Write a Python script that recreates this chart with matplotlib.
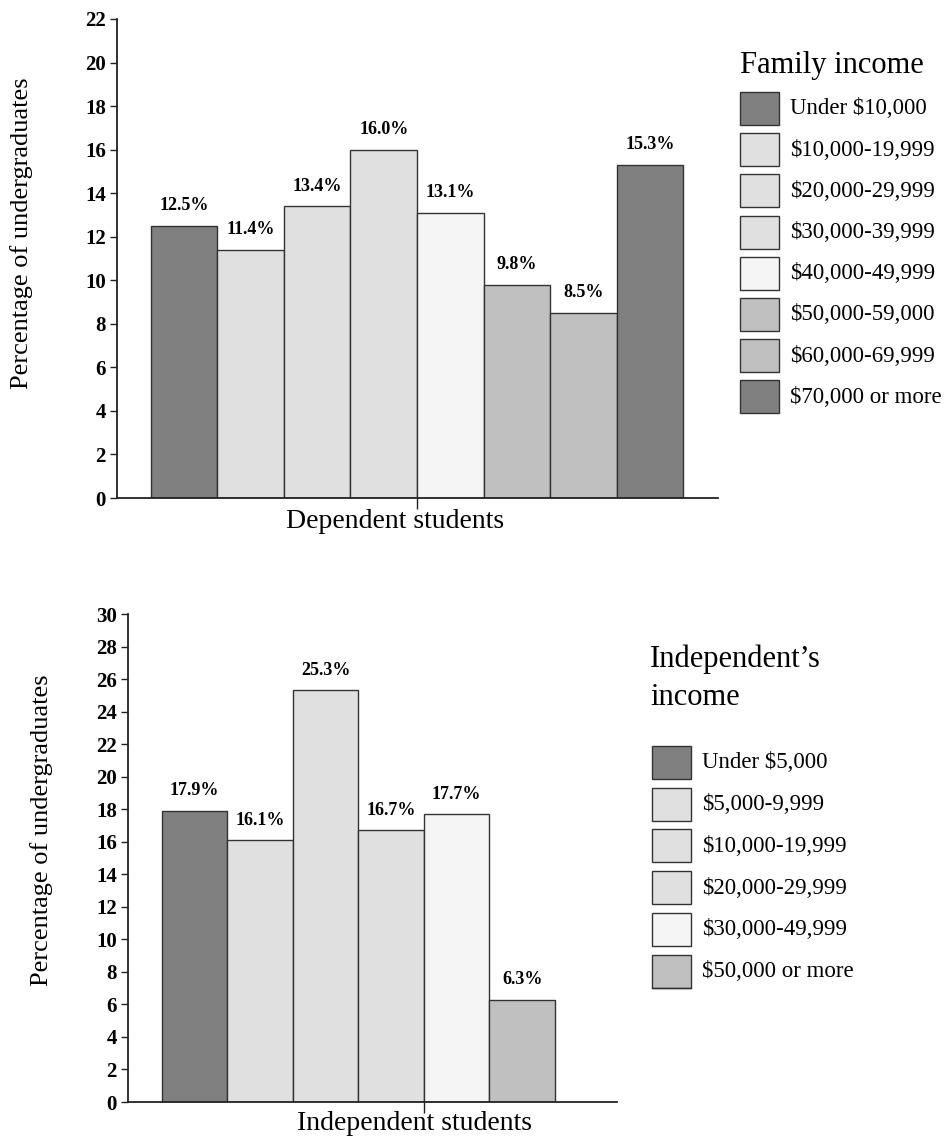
import matplotlib
matplotlib.use("Agg")
import matplotlib.pyplot as plt
from matplotlib.patches import Rectangle
from matplotlib.lines import Line2D
import numpy as np

plt.rcParams['font.family'] = ['Liberation Serif', 'DejaVu Serif']

# data
dep_labels = ["Under $10,000", "$10,000-19,999", "$20,000-29,999", "$30,000-39,999",
              "$40,000-49,999", "$50,000-59,000", "$60,000-69,999", "$70,000 or more"]
dep_values = [12.5, 11.4, 13.4, 16.0, 13.1, 9.8, 8.5, 15.3]

ind_labels = ["Under $5,000", "$5,000-9,999", "$10,000-19,999", "$20,000-29,999",
              "$30,000-49,999", "$50,000 or more"]
ind_values = [17.9, 16.1, 25.3, 16.7, 17.7, 6.3]

DARK = "#808080"
LIGHT = "#e0e0e0"
WHITE = "#f5f5f5"
MID = "#c0c0c0"
dep_colors = [DARK, LIGHT, LIGHT, LIGHT, WHITE, MID, MID, DARK]
ind_colors = [DARK, LIGHT, LIGHT, LIGHT, WHITE, MID]

W, H = 949, 1141
fig = plt.figure(figsize=(W / 100, H / 100), dpi=100)


def px(x, y):
    return x / W, 1 - y / H


def axes_px(left, top, right, bottom):
    return [left / W, 1 - bottom / H, (right - left) / W, (bottom - top) / H]


def draw_bars(ax, values, colors, xlim, ymax, xlabel, label_xy):
    x = np.arange(len(values))
    ax.bar(x, values, width=1.0, color=colors, edgecolor="#333333", linewidth=1.0)
    for xi, v in zip(x, values):
        ax.annotate(f"{v:.1f}%", (xi, v), xytext=(0, 20), textcoords="offset pixels",
                    ha="center", va="center", fontsize=13, fontweight="bold")
    ax.set_xlim(*xlim)
    ax.set_ylim(0, ymax)
    ax.set_yticks(np.arange(0, ymax + 1, 2))
    ax.set_xticks([3.5])
    ax.set_xticklabels([""])
    ax.set_xlabel(xlabel, fontsize=20, va="top")
    ax.xaxis.set_label_coords(*label_xy)
    for s in ["top", "right"]:
        ax.spines[s].set_visible(False)
    for s in ["left", "bottom"]:
        ax.spines[s].set_color("#222222")
        ax.spines[s].set_linewidth(1.3)
    ax.tick_params(axis="y", length=5, width=1, pad=3, labelsize=15, color="#222222")
    for t in ax.get_yticklabels():
        t.set_fontweight("bold")
    ax.tick_params(axis="x", length=8, width=1, color="#222222")


def draw_legend(x0, first_top, step, labels, colors, text_x):
    for i, (lab, c) in enumerate(zip(labels, colors)):
        top = first_top + i * step
        fx, fy = px(x0, top + 33)
        fig.add_artist(Rectangle((fx, fy), 39 / W, 33 / H, transform=fig.transFigure,
                                 facecolor=c, edgecolor="#333333", linewidth=1.0))
        tx, ty = px(text_x, top + 17)
        fig.text(tx, ty, lab, ha="left", va="center", fontsize=16.5)


# top chart: dependent students
ax1 = fig.add_axes(axes_px(117, 19, 718, 498))
draw_bars(ax1, dep_values, dep_colors, (-1.011, 8.026), 22, "Dependent students",
          (0.4626, -0.022))
fig.text(*px(22, 233), "Percentage of undergraduates", rotation=90,
         ha="center", va="center", fontsize=19)

fig.text(*px(740, 73), "Family income", ha="left", va="baseline", fontsize=22)
draw_legend(740, 92, 41.2, dep_labels, dep_colors, 790)

# bottom chart: independent students
ax2 = fig.add_axes(axes_px(128, 614, 617, 1102))
draw_bars(ax2, ind_values, ind_colors, (-1.019, 6.447), 30, "Independent students",
          (0.585, -0.018))
fig.text(*px(42, 830), "Percentage of undergraduates", rotation=90,
         ha="center", va="center", fontsize=19)

fig.text(*px(650, 667), "Independent\u2019s", ha="left", va="baseline", fontsize=22)
fig.text(*px(650, 705), "income", ha="left", va="baseline", fontsize=22)
draw_legend(652, 746, 41.7, ind_labels, ind_colors, 702)
fig.add_artist(Line2D([652 / W, 691 / W], [1 - 988 / H, 1 - 988 / H],
                      transform=fig.transFigure, color="#333333", linewidth=1.0))

fig.savefig("out.png", dpi=100, facecolor="white")
